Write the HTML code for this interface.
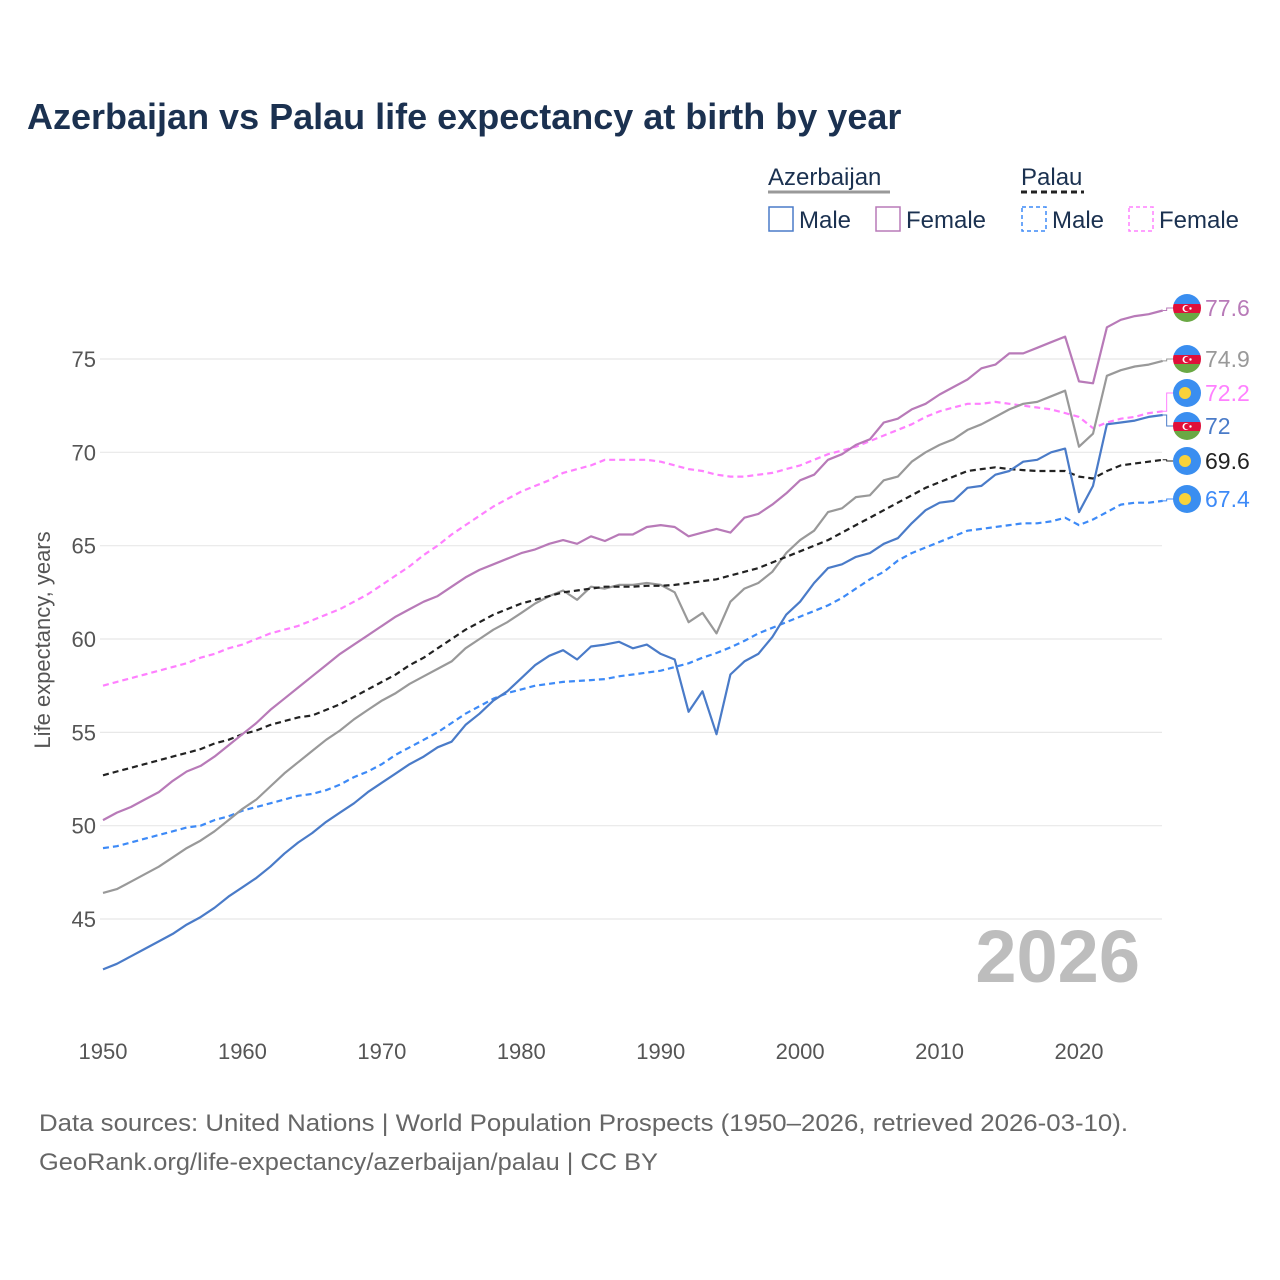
<!DOCTYPE html>
<html><head><meta charset="utf-8"><style>
body{margin:0;background:#fff;}
svg{display:block;font-family:"Liberation Sans",sans-serif;}
</style></head><body>
<svg id="c" width="1280" height="1280" viewBox="0 0 1280 1280">
<text x="27" y="129" font-size="36" font-weight="bold" fill="#1b3150">Azerbaijan vs Palau life expectancy at birth by year</text>
<g font-size="24" fill="#1b3150">
<text x="768" y="185">Azerbaijan</text>
<line x1="768" y1="192" x2="890" y2="192" stroke="#999" stroke-width="3"/>
<text x="1021" y="185">Palau</text>
<line x1="1021" y1="192" x2="1084" y2="192" stroke="#222" stroke-width="3" stroke-dasharray="6,4"/>
<g><rect x="769" y="207" width="24" height="24" fill="none" stroke="#4a7bc8" stroke-width="1.5"/><text x="799" y="228">Male</text></g>
<g><rect x="876" y="207" width="24" height="24" fill="none" stroke="#b87ab8" stroke-width="1.5"/><text x="906" y="228">Female</text></g>
<g><rect x="1022" y="207" width="24" height="24" fill="none" stroke="#3d8af7" stroke-width="1.5" stroke-dasharray="4,3"/><text x="1052" y="228">Male</text></g>
<g><rect x="1129" y="207" width="24" height="24" fill="none" stroke="#ff80ff" stroke-width="1.5" stroke-dasharray="4,3"/><text x="1159" y="228">Female</text></g>
</g>
<g id="grid"></g>
<g id="yt" font-size="22" fill="#555" text-anchor="end"></g>
<g id="xt" font-size="22" fill="#555" text-anchor="middle"></g>
<text transform="translate(50,640) rotate(-90)" text-anchor="middle" font-size="22" fill="#555">Life expectancy, years</text>
<text x="1140" y="982" text-anchor="end" font-size="74" font-weight="bold" fill="#bdbdbd">2026</text>
<g id="lines"></g>
<g id="ends"></g>
<text x="39" y="1131" font-size="24" fill="#666" textLength="1089" lengthAdjust="spacingAndGlyphs">Data sources: United Nations | World Population Prospects (1950–2026, retrieved 2026-03-10).</text>
<text x="39" y="1170" font-size="24" fill="#666" textLength="619" lengthAdjust="spacingAndGlyphs">GeoRank.org/life-expectancy/azerbaijan/palau | CC BY</text>
</svg>
<script>
const startYear = 1950;
const yTicks = [45, 50, 55, 60, 65, 70, 75];
const xTicks = [1950, 1960, 1970, 1980, 1990, 2000, 2010, 2020];
const azMale = [42.3,42.6,43.0,43.4,43.8,44.2,44.7,45.1,45.6,46.2,46.7,47.2,47.8,48.5,49.1,49.6,50.2,50.7,51.2,51.8,52.3,52.8,53.3,53.7,54.2,54.5,55.4,56.0,56.7,57.2,57.9,58.6,59.1,59.4,58.9,59.6,59.7,59.85,59.5,59.7,59.2,58.9,56.1,57.2,54.9,58.1,58.8,59.2,60.1,61.3,62.0,63.0,63.8,64.0,64.4,64.6,65.1,65.4,66.2,66.9,67.3,67.4,68.1,68.2,68.8,69.0,69.5,69.6,70.0,70.2,66.8,68.2,71.5,71.6,71.7,71.9,72.0];
const azFemale = [50.3,50.7,51.0,51.4,51.8,52.4,52.9,53.2,53.7,54.3,54.9,55.5,56.2,56.8,57.4,58.0,58.6,59.2,59.7,60.2,60.7,61.2,61.6,62.0,62.3,62.8,63.3,63.7,64.0,64.3,64.6,64.8,65.1,65.3,65.1,65.5,65.25,65.6,65.6,66.0,66.1,66.0,65.5,65.7,65.9,65.7,66.5,66.7,67.2,67.8,68.5,68.8,69.6,69.9,70.4,70.7,71.6,71.8,72.3,72.6,73.1,73.5,73.9,74.5,74.7,75.3,75.3,75.6,75.9,76.2,73.8,73.7,76.7,77.1,77.3,77.4,77.6];
const azTotal = [46.4,46.6,47.0,47.4,47.8,48.3,48.8,49.2,49.7,50.3,50.9,51.4,52.1,52.8,53.4,54.0,54.6,55.1,55.7,56.2,56.7,57.1,57.6,58.0,58.4,58.8,59.5,60.0,60.5,60.9,61.4,61.9,62.3,62.6,62.1,62.8,62.7,62.9,62.9,63.0,62.9,62.5,60.9,61.4,60.3,62.0,62.7,63.0,63.6,64.6,65.3,65.8,66.8,67.0,67.6,67.7,68.5,68.7,69.5,70.0,70.4,70.7,71.2,71.5,71.9,72.3,72.6,72.7,73.0,73.3,70.3,71.0,74.1,74.4,74.6,74.7,74.9];
const plFemale = [57.5,57.7,57.9,58.1,58.3,58.5,58.7,59.0,59.2,59.5,59.7,60.0,60.3,60.5,60.7,61.0,61.3,61.6,62.0,62.4,62.9,63.4,63.9,64.5,65.0,65.6,66.1,66.6,67.1,67.5,67.9,68.2,68.5,68.9,69.1,69.3,69.6,69.6,69.6,69.6,69.5,69.3,69.1,69.0,68.8,68.7,68.7,68.8,68.9,69.1,69.3,69.6,69.9,70.1,70.3,70.6,70.9,71.2,71.5,71.9,72.2,72.4,72.6,72.6,72.7,72.6,72.5,72.4,72.3,72.1,71.9,71.3,71.6,71.8,71.9,72.1,72.2];
const plTotal = [52.7,52.9,53.1,53.3,53.5,53.7,53.9,54.1,54.4,54.6,54.9,55.1,55.4,55.6,55.8,55.9,56.2,56.5,56.9,57.3,57.7,58.1,58.6,59.0,59.5,60.0,60.5,60.9,61.3,61.6,61.9,62.1,62.3,62.5,62.6,62.7,62.8,62.8,62.8,62.85,62.85,62.9,63.0,63.1,63.2,63.4,63.6,63.8,64.1,64.4,64.7,65.0,65.3,65.7,66.1,66.5,66.9,67.3,67.7,68.1,68.4,68.7,69.0,69.1,69.2,69.1,69.05,69.0,69.0,69.0,68.7,68.6,69.0,69.3,69.4,69.5,69.6];
const plMale = [48.8,48.9,49.1,49.3,49.5,49.7,49.9,50.0,50.3,50.5,50.8,51.0,51.2,51.4,51.6,51.7,51.9,52.2,52.6,52.9,53.3,53.8,54.2,54.6,55.0,55.5,56.0,56.4,56.8,57.1,57.3,57.5,57.6,57.7,57.75,57.8,57.85,58.0,58.1,58.2,58.3,58.5,58.7,59.0,59.25,59.55,59.9,60.3,60.6,60.9,61.2,61.5,61.8,62.2,62.7,63.2,63.6,64.2,64.6,64.9,65.2,65.5,65.8,65.9,66.0,66.1,66.2,66.2,66.3,66.5,66.1,66.4,66.8,67.2,67.3,67.3,67.4];

const NS = "http://www.w3.org/2000/svg";
function xS(year){ return 103 + (year - 1950) * 13.943; }
function yS(v){ return 359 + (75 - v) * 18.667; }
function mk(tag, attrs, parent){ const e = document.createElementNS(NS, tag); for (const k in attrs) e.setAttribute(k, attrs[k]); parent.appendChild(e); return e; }

const grid = document.getElementById('grid'), yt = document.getElementById('yt'), xt = document.getElementById('xt');
yTicks.forEach(v => {
  const l = mk('line', {x1: 100, x2: 1162, y1: yS(v), y2: yS(v), stroke: '#e8e8e8', 'stroke-width': 1.2}, grid);
  
  
  const t = mk('text', {x: 96, y: yS(v) + 8}, yt);
  t.textContent = v;
  
  
});
xTicks.forEach(y => {
  const t = mk('text', {x: xS(y), y: 1059}, xt);
  t.textContent = y;
  
  
});

const lines = document.getElementById('lines');
function draw(arr, color, dash, name){
  const pts = arr.map((v, i) => xS(startYear + i).toFixed(1) + ',' + yS(v).toFixed(1)).join(' ');
  const p = mk('polyline', {points: pts, fill: 'none', stroke: color, 'stroke-width': 2.2, 'stroke-linejoin': 'round'}, lines);
  if (dash) p.setAttribute('stroke-dasharray', '6,4');
  
  
}
draw(plFemale, '#ff80ff', true, 'line-palau-female');
draw(plMale, '#3d8af7', true, 'line-palau-male');
draw(azTotal, '#999999', false, 'line-azerbaijan-total');
draw(plTotal, '#222222', true, 'line-palau-total');
draw(azMale, '#4a7bc8', false, 'line-azerbaijan-male');
draw(azFemale, '#b87ab8', false, 'line-azerbaijan-female');

const ends = document.getElementById('ends');
function azFlag(g, cx, cy){
  const id = 'clipaz' + Math.round(cy);
  const cp = mk('clipPath', {id: id}, g); mk('circle', {cx: cx, cy: cy, r: 14}, cp);
  const gg = mk('g', {'clip-path': 'url(#' + id + ')'}, g);
  mk('rect', {x: cx-14, y: cy-14, width: 28, height: 10, fill: '#3a8ef0'}, gg);
  mk('rect', {x: cx-14, y: cy-4, width: 28, height: 9, fill: '#e0103a'}, gg);
  mk('rect', {x: cx-14, y: cy+5, width: 28, height: 10, fill: '#6aa844'}, gg);
  mk('circle', {cx: cx-1, cy: cy+0.5, r: 3.5, fill: '#fff'}, gg);
  mk('circle', {cx: cx, cy: cy+0.5, r: 2.8, fill: '#e0103a'}, gg);
  mk('circle', {cx: cx+3.5, cy: cy+0.5, r: 1.2, fill: '#fff'}, gg);
}
function plFlag(g, cx, cy){
  mk('circle', {cx: cx, cy: cy, r: 14, fill: '#3a8ef0'}, g);
  mk('circle', {cx: cx-2, cy: cy, r: 6, fill: '#f8d23a'}, g);
}
const endItems = [
  [azFemale, 308, '#b87ab8', 'az', 'end-label-azerbaijan-female'],
  [azTotal, 359, '#999999', 'az', 'end-label-azerbaijan-total'],
  [plFemale, 393, '#ff80ff', 'pl', 'end-label-palau-female'],
  [azMale, 426, '#4a7bc8', 'az', 'end-label-azerbaijan-male'],
  [plTotal, 461, '#222222', 'pl', 'end-label-palau-total'],
  [plMale, 499, '#3d8af7', 'pl', 'end-label-palau-male']
];
endItems.forEach(it => {
  const arr = it[0], ly = it[1], col = it[2];
  const last = arr[arr.length - 1];
  const g = mk('g', {}, ends);
  
  
  const x0 = xS(startYear + arr.length - 1);
  mk('polyline', {points: x0 + ',' + yS(last) + ' ' + (x0+4) + ',' + yS(last) + ' ' + (x0+4) + ',' + ly + ' ' + (x0+12) + ',' + ly, fill: 'none', stroke: col, 'stroke-width': 1}, g);
  if (it[3] === 'az') azFlag(g, 1187, ly); else plFlag(g, 1187, ly);
  const t = mk('text', {x: 1205, y: ly + 8, 'font-size': 23, fill: col}, g);
  t.textContent = last;
});
</script>
</body></html>
